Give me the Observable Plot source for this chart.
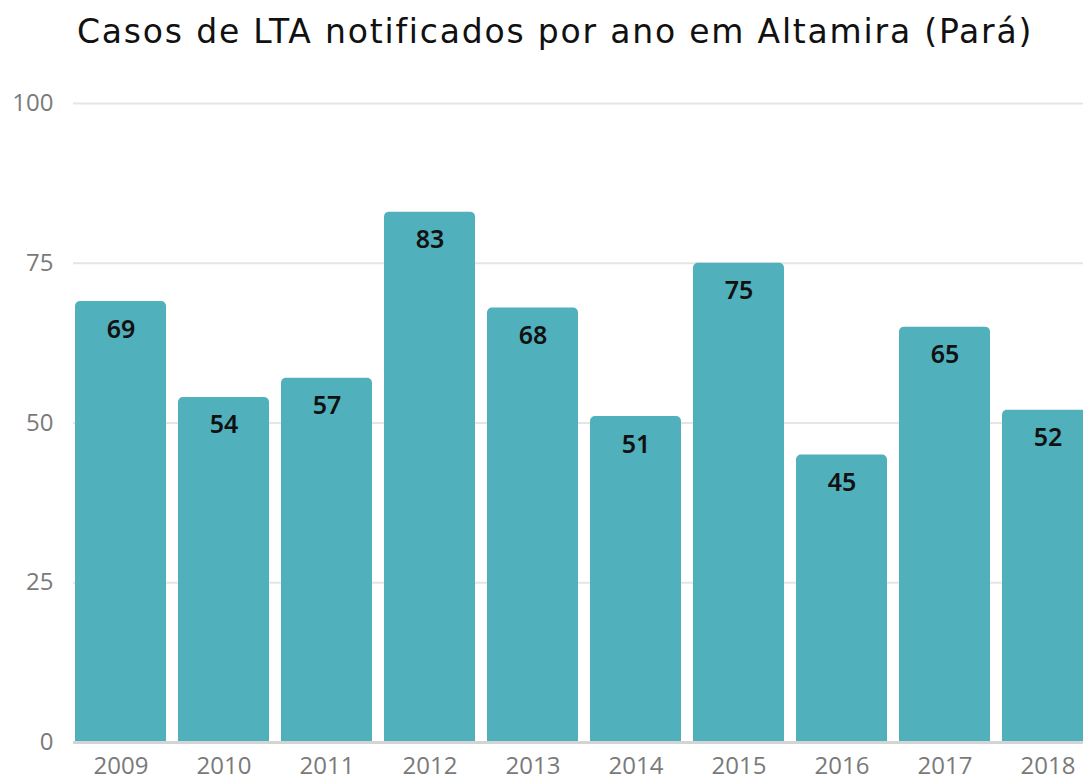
<!DOCTYPE html>
<html>
<head>
<meta charset="utf-8">
<script src="https://cdn.jsdelivr.net/npm/d3@7"></script>
<script src="https://cdn.jsdelivr.net/npm/@observablehq/plot@0.6"></script>
<style>
  html, body { margin: 0; padding: 0; background: #fff; overflow: hidden; width: 1083px; height: 780px; }
  #title { height: 70px; font-family: "DejaVu Sans", sans-serif; font-size: 33px; letter-spacing: 1.8px; color: #111; padding-left: 77px; padding-top: 12px; line-height: 40px; box-sizing: border-box; white-space: nowrap; }
  #chart svg { display: block; overflow: visible; max-width: none !important; height: 710px !important; }
</style>
</head>
<body>
<div id="title">Casos de LTA notificados por ano em Altamira (Pará)</div>
<div id="chart"></div>
<script>
const years = ["2009","2010","2011","2012","2013","2014","2015","2016","2017","2018"];
const cases = [69, 54, 57, 83, 68, 51, 75, 45, 65, 52];
const yTicks = [0, 25, 50, 75, 100];

const data = years.map((y, i) => ({year: y, value: cases[i]}));
const color = "#50b0bc";

const chart = Plot.plot({
  width: 1100,
  height: 710,
  marginTop: 33,
  marginBottom: 38,
  marginLeft: 73,
  marginRight: 4,
  style: {fontFamily: "'Open Sans', 'Noto Sans', sans-serif", fontSize: "24px", color: "#7a7a7a", background: "#fff"},
  x: {domain: years, padding: 0.115, paddingOuter: 0, label: null, tickSize: 0, tickPadding: 14},
  y: {domain: [0, 100], ticks: yTicks, label: null, tickSize: 0, tickPadding: 20},
  marks: [
    Plot.ruleY(yTicks.filter(t => t > 0), {stroke: "#e5e5e5", strokeWidth: 2, strokeOpacity: 1}),
    Plot.barY(data, {x: "year", y1: -2, y2: "value", fill: color, rx: 5, clip: true}),
    Plot.ruleY([0], {stroke: "#d4d4d4", strokeWidth: 3}),
    Plot.text(data, {x: "year", y: "value", text: d => String(d.value), dy: 28, fill: "#111", fontSize: 25, fontWeight: 600, fontFamily: "'Noto Sans', sans-serif"})
  ]
});
document.getElementById("chart").appendChild(chart);
</script>
</body>
</html>
